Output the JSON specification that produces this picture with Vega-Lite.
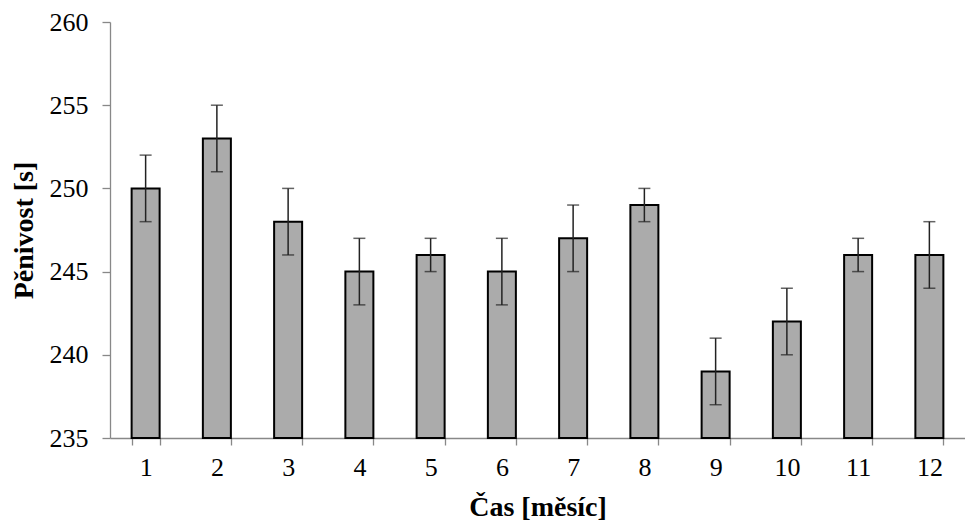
{
  "$schema": "https://vega.github.io/schema/vega-lite/v6.json",
  "autosize": "none",
  "width": 855,
  "height": 416,
  "padding": {"left": 110, "top": 22, "right": 0, "bottom": 87},
  "background": "white",
  "config": {"view": {"stroke": null}, "font": "Liberation Serif"},
  "data": {"values": [
    {"mesic": "1", "v": 250, "lo": 248, "hi": 252},
    {"mesic": "2", "v": 253, "lo": 251, "hi": 255},
    {"mesic": "3", "v": 248, "lo": 246, "hi": 250},
    {"mesic": "4", "v": 245, "lo": 243, "hi": 247},
    {"mesic": "5", "v": 246, "lo": 245, "hi": 247},
    {"mesic": "6", "v": 245, "lo": 243, "hi": 247},
    {"mesic": "7", "v": 247, "lo": 245, "hi": 249},
    {"mesic": "8", "v": 249, "lo": 248, "hi": 250},
    {"mesic": "9", "v": 239, "lo": 237, "hi": 241},
    {"mesic": "10", "v": 242, "lo": 240, "hi": 244},
    {"mesic": "11", "v": 246, "lo": 245, "hi": 247},
    {"mesic": "12", "v": 246, "lo": 244, "hi": 248}
  ]},
  "encoding": {
    "x": {
      "field": "mesic", "type": "ordinal", "sort": null,
      "scale": {"paddingInner": 0.607, "paddingOuter": 0.3035},
      "axis": {
        "title": "Čas [měsíc]", "titleFont": "Liberation Serif", "titleFontSize": 28, "titleFontWeight": "bold",
        "titleColor": "black", "titlePadding": 13,
        "labelAngle": 0, "labelFont": "Liberation Serif", "labelFontSize": 26, "labelColor": "black", "labelPadding": 9,
        "domainColor": "#888888", "domainWidth": 1.3, "tickColor": "#888888", "tickWidth": 1.3, "tickSize": 7, "tickBand": "extent",
        "grid": false
      }
    }
  },
  "layer": [
    {
      "mark": {"type": "bar", "fill": "#ababab", "stroke": "black", "strokeWidth": 2},
      "encoding": {
        "y": {
          "field": "v", "type": "quantitative",
          "scale": {"domain": [235, 260], "zero": false, "clamp": true, "padding": 0, "nice": false},
          "axis": {
            "title": "Pěnivost [s]", "titleFont": "Liberation Serif", "titleFontSize": 28, "titleFontWeight": "bold",
            "titleColor": "black", "titlePadding": 11,
            "values": [235, 240, 245, 250, 255, 260],
            "labelFont": "Liberation Serif", "labelFontSize": 26, "labelColor": "black", "labelPadding": 14,
            "domainColor": "#888888", "domainWidth": 1.3, "tickColor": "#888888", "tickWidth": 1.3, "tickSize": 8,
            "grid": false
          }
        },
        "y2": {"datum": 235}
      }
    },
    {
      "mark": {"type": "rule", "color": "#222222", "strokeWidth": 1.5},
      "encoding": {
        "y": {"field": "lo", "type": "quantitative"},
        "y2": {"field": "hi"}
      }
    },
    {
      "mark": {"type": "tick", "color": "#222222", "thickness": 1.5, "size": 12},
      "encoding": {"y": {"field": "lo", "type": "quantitative"}}
    },
    {
      "mark": {"type": "tick", "color": "#222222", "thickness": 1.5, "size": 12},
      "encoding": {"y": {"field": "hi", "type": "quantitative"}}
    }
  ]
}
